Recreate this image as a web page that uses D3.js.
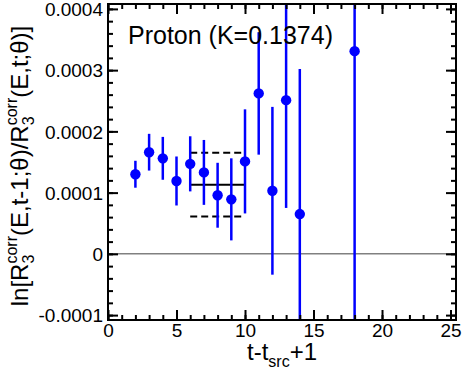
<!DOCTYPE html>
<html>
<head>
<meta charset="utf-8">
<script src="https://cdn.jsdelivr.net/npm/d3@7"></script>
<style>
body { margin: 0; background: #fff; }
svg { display: block; font-family: "Liberation Sans", Arial, Helvetica, sans-serif; }
</style>
</head>
<body>
<svg id="chart"></svg>
<script>
// data
const tValues = [2, 3, 4, 5, 6, 7, 8, 9, 10, 11, 12, 13, 14, 18];
const ratioValues = [0.000130, 0.000166, 0.000156, 0.000119, 0.000147, 0.000133, 0.0000957,
                     0.0000890, 0.000151, 0.000262, 0.000103, 0.000251, 0.0000650, 0.000331];
const ratioErrors = [0.000022, 0.000030, 0.000035, 0.000040, 0.000045, 0.000053, 0.000053,
                     0.000067, 0.000085, 0.000100, 0.000137, 0.000176, 0.000237, 0.00055];
const fitRange = [6, 10];
const fitValue = 0.000113;
const fitError = 0.000052;

const xTicks = [0, 5, 10, 15, 20, 25];
const xTickLabels = ["0", "5", "10", "15", "20", "25"];
const yTicks = [-0.0001, 0, 0.0001, 0.0002, 0.0003, 0.0004];
const yTickLabels = ["-0.0001", "0", "0.0001", "0.0002", "0.0003", "0.0004"];

const margin = { top: 4, right: 7, bottom: 52, left: 108 },
      width = 463 - margin.left - margin.right,
      height = 372 - margin.top - margin.bottom;

const root = d3.select("#chart")
    .attr("width", 463)
    .attr("height", 372);

root.append("rect").attr("width", 463).attr("height", 372).attr("fill", "#fff");

const svg = root.append("g")
    .attr("transform", `translate(${margin.left},${margin.top})`);

const x = d3.scaleLinear().domain([0, 25.4]).range([0, width]);
const y = d3.scaleLinear().domain([-0.000108, 0.000408]).range([height, 0]);

svg.append("clipPath").attr("id", "plot-clip")
    .append("rect").attr("width", width).attr("height", height);

const plot = svg.append("g").attr("clip-path", "url(#plot-clip)");

// zero line
plot.append("line")
    .attr("x1", 0).attr("x2", width)
    .attr("y1", y(0)).attr("y2", y(0))
    .attr("stroke", "#808080")
    .attr("stroke-width", 1.5);

// fit band
[[fitValue, null], [fitValue + fitError, "7,4"], [fitValue - fitError, "7,4"]].forEach(([v, dash]) => {
    plot.append("line")
        .attr("x1", x(fitRange[0])).attr("x2", x(fitRange[1]))
        .attr("y1", y(v)).attr("y2", y(v))
        .attr("stroke", "#000")
        .attr("stroke-width", 2)
        .attr("stroke-dasharray", dash);
});

const points = tValues.map((t, i) => ({ t: t, v: ratioValues[i], e: ratioErrors[i] }));

plot.selectAll(".err")
    .data(points)
    .enter().append("line")
    .attr("class", "err")
    .attr("x1", d => x(d.t)).attr("x2", d => x(d.t))
    .attr("y1", d => y(d.v + d.e)).attr("y2", d => y(d.v - d.e))
    .attr("stroke", "#0000ff")
    .attr("stroke-width", 2.5);

plot.selectAll(".pt")
    .data(points)
    .enter().append("circle")
    .attr("class", "pt")
    .attr("cx", d => x(d.t))
    .attr("cy", d => y(d.v))
    .attr("r", 5.2)
    .attr("fill", "#0000ff");

// axes, ticks pointing inward on all four sides
function styleAxis(g) {
    g.select(".domain").remove();
    g.selectAll("line").attr("stroke", "#000").attr("stroke-width", 2);
    g.selectAll("text").attr("fill", "#000").style("font-size", "19px");
}

const xMinor = d3.range(0, 26);
const yMinor = d3.range(-5, 21).map(i => i * 0.00002);

svg.append("g").attr("transform", `translate(0,${height})`)
    .call(d3.axisBottom(x).tickValues(xTicks).tickFormat((d, i) => xTickLabels[i]).tickSize(-10).tickPadding(3))
    .call(styleAxis);
svg.append("g").attr("transform", `translate(0,${height})`)
    .call(d3.axisBottom(x).tickValues(xMinor).tickFormat("").tickSize(-5))
    .call(styleAxis);
svg.append("g")
    .call(d3.axisTop(x).tickValues(xTicks).tickFormat("").tickSize(-10))
    .call(styleAxis);
svg.append("g")
    .call(d3.axisTop(x).tickValues(xMinor).tickFormat("").tickSize(-5))
    .call(styleAxis);

svg.append("g")
    .call(d3.axisLeft(y).tickValues(yTicks).tickFormat((d, i) => yTickLabels[i]).tickSize(-10).tickPadding(5))
    .call(styleAxis)
    .selectAll("text").attr("dy", "0.35em");
svg.append("g")
    .call(d3.axisLeft(y).tickValues(yMinor).tickFormat("").tickSize(-5))
    .call(styleAxis);
svg.append("g").attr("transform", `translate(${width},0)`)
    .call(d3.axisRight(y).tickValues(yTicks).tickFormat("").tickSize(-10))
    .call(styleAxis);
svg.append("g").attr("transform", `translate(${width},0)`)
    .call(d3.axisRight(y).tickValues(yMinor).tickFormat("").tickSize(-5))
    .call(styleAxis);

// frame
svg.append("rect")
    .attr("width", width).attr("height", height)
    .attr("fill", "none")
    .attr("stroke", "#000")
    .attr("stroke-width", 2);

// title
svg.append("text")
    .attr("x", 20)
    .attr("y", 40)
    .style("font-size", "25px")
    .attr("fill", "#000")
    .text("Proton (K=0.1374)");

// x label
const xl = svg.append("text")
    .attr("x", width / 2)
    .attr("y", height + 40)
    .attr("text-anchor", "middle")
    .style("font-size", "24px");
xl.append("tspan").text("t-t");
xl.append("tspan").attr("dy", 7).style("font-size", "16px").text("src");
xl.append("tspan").attr("dy", -7).text("+1");

// y label with stacked sub/superscripts
const yl = root.append("text")
    .attr("transform", "translate(28,166) rotate(-90)")
    .attr("text-anchor", "middle")
    .style("font-size", "24px");

function stackedR(textSel) {
    textSel.append("tspan").text("R");
    textSel.append("tspan").attr("dy", 6).style("font-size", "16px").text("3");
    textSel.append("tspan").attr("dx", -8.9).attr("dy", -17).style("font-size", "16px").text("corr");
    return textSel;
}
yl.append("tspan").text("ln[");
stackedR(yl);
yl.append("tspan").attr("dy", 11).text("(E,t-1;θ)/");
stackedR(yl);
yl.append("tspan").attr("dy", 11).text("(E,t;θ)]");
</script>
</body>
</html>
